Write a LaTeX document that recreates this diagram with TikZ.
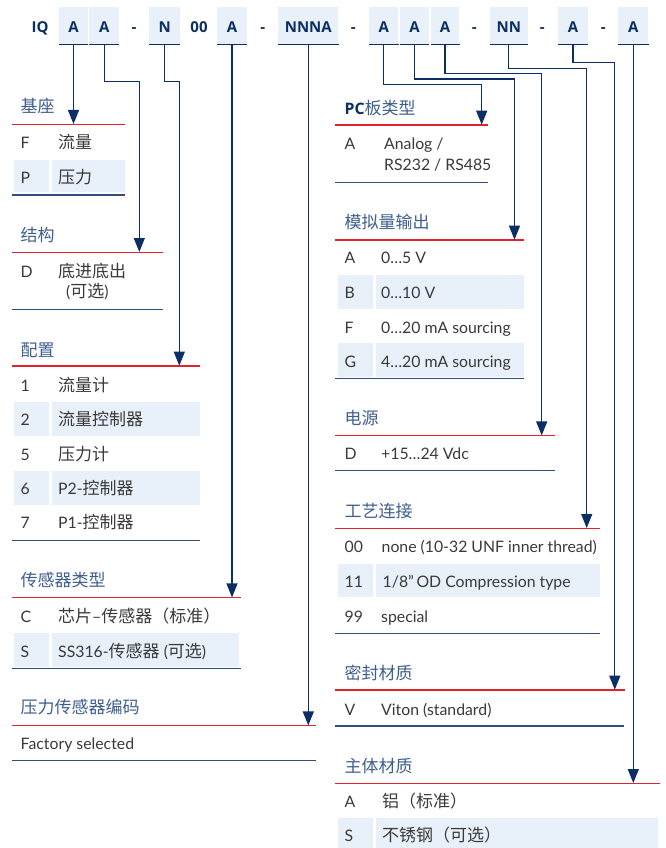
\documentclass[tikz,border=0pt]{standalone}
\usepackage{fontspec}
\setmainfont{Lato}
\newfontfamily\zhfont{Noto Sans CJK SC}
\newfontfamily\hdfont{Open Sans}
\usetikzlibrary{arrows.meta}
\definecolor{navy}{HTML}{0B2F64}
\definecolor{boxfill}{HTML}{E8F0F9}
\definecolor{headblue}{HTML}{3E5F8E}
\definecolor{redline}{HTML}{E1232E}
\definecolor{botline}{HTML}{2F4F7F}
\definecolor{bodytext}{HTML}{3A3A3A}
\newcommand\zh[1]{{\zhfont\fontsize{17}{19}\selectfont #1}}
\begin{document}
\begin{tikzpicture}[x=1pt,y=-1pt,
  hdr/.style={font=\hdfont\bfseries\fontsize{15}{18}\selectfont, text=navy, inner sep=0pt, text height=13.2pt, text depth=0pt},
  hbox/.style={hdr, fill=boxfill, minimum height=37.6pt},
  sec/.style={anchor=base west, inner sep=0pt, text=headblue, font=\fontsize{15.8}{19}\selectfont},
  key/.style={anchor=base west, inner sep=0pt, text=bodytext, font=\fontsize{15.8}{19}\selectfont},
  conn/.style={draw=navy, line width=1.2pt},
  arr/.style={conn, -{Triangle[length=14pt,width=11pt]}},
  redl/.style={draw=redline, line width=1.3pt},
  botl/.style={draw=botline, line width=1.5pt},
  hline/.style={draw=navy, line width=1.5pt},
  cell/.style={fill=boxfill}
]
\fill[white] (0,0) rectangle (665,848);
\useasboundingbox (0,0) rectangle (665,848);

% ---------- header code ----------
\node[hdr] (iq) at (40,25.5) {IQ};
\node[hbox, minimum width=29pt] (b1) at (73.5,25.5) {A};
\node[hbox, minimum width=29.7pt] (b2) at (104.2,25.5) {A};
\node[hdr] (d1) at (134,25.5) {-};
\node[hbox, minimum width=30.7pt] (b3) at (164.7,25.5) {N};
\node[hdr] (zz) at (199,25.5) {00};
\node[hbox, minimum width=30pt] (b4) at (232,25.5) {A};
\node[hdr] (d2) at (262.7,25.5) {-};
\node[hbox, minimum width=60pt] (b5) at (308.3,25.5) {NNNA};
\node[hdr] (d3) at (353.3,25.5) {-};
\node[hbox, minimum width=29.3pt] (b6) at (383.7,25.5) {A};
\node[hbox, minimum width=29pt] (b7) at (414.5,25.5) {A};
\node[hbox, minimum width=28.6pt] (b8) at (445,25.5) {A};
\node[hdr] (d4) at (474.3,25.5) {-};
\node[hbox, minimum width=37.7pt] (b9) at (508.8,25.5) {NN};
\node[hdr] (d5) at (542.3,25.5) {-};
\node[hbox, minimum width=29.4pt] (b10) at (573,25.5) {A};
\node[hdr] (d6) at (603.3,25.5) {-};
\node[hbox, minimum width=30pt] (b11) at (633.3,25.5) {A};
\foreach \b in {b1,b2,b3,b4,b5,b6,b7,b8,b9,b10,b11}
  \draw[hline] (\b.south west) -- (\b.south east);

% ---------- left column ----------
% 基座
\node[sec] (s1) at (20.5,113) {\zh{基座}};
\draw[redl] (11.7,124.3) -- (125,124.3);
\fill[cell] (14,160) rectangle (49.3,192.3);
\fill[cell] (51.7,160) rectangle (125,192.3);
\node[key] (s1k1) at (20.5,149) {F};
\node[key] (s1v1) at (58,149) {\zh{流量}};
\node[key] (s1k2) at (20.5,183) {P};
\node[key] (s1v2) at (58,183) {\zh{压力}};
\draw[botl] (11.7,195) -- (125,195);

% 结构
\node[sec] (s2) at (20.5,241.7) {\zh{结构}};
\draw[redl] (11.7,252.3) -- (162.7,252.3);
\node[key] (s2k1) at (20.5,277) {D};
\node[key] (s2v1) at (58,277) {\zh{底进底出}};
\node[key] (s2v1b) at (66,297.7) {(\zh{可选})};
\draw[botl] (11.7,309.3) -- (162.7,309.3);

% 配置
\node[sec] (s3) at (20.5,356.7) {\zh{配置}};
\draw[redl] (11.7,366) -- (200,366);
\fill[cell] (14,402.3) rectangle (49.3,436);
\fill[cell] (51.7,402.3) rectangle (200,436);
\fill[cell] (14,471) rectangle (49.3,505);
\fill[cell] (51.7,471) rectangle (200,505);
\node[key] (s3k1) at (20.5,391) {1};
\node[key] (s3v1) at (58,391) {\zh{流量计}};
\node[key] (s3k2) at (20.5,425) {2};
\node[key] (s3v2) at (58,425) {\zh{流量控制器}};
\node[key] (s3k3) at (20.5,460.3) {5};
\node[key] (s3v3) at (58,460.3) {\zh{压力计}};
\node[key] (s3k4) at (20.5,494) {6};
\node[key] (s3v4) at (58,494) {P2-\zh{控制器}};
\node[key] (s3k5) at (20.5,528.7) {7};
\node[key] (s3v5) at (58,528.7) {P1-\zh{控制器}};
\draw[botl] (11.7,540.7) -- (200,540.7);

% 传感器类型
\node[sec] (s4) at (20.5,586.7) {\zh{传感器类型}};
\draw[redl] (11.7,597.7) -- (240.7,597.7);
\fill[cell] (14,633.3) rectangle (49.3,666.7);
\fill[cell] (51.7,633.3) rectangle (239.3,666.7);
\node[key] (s4k1) at (20.5,622) {C};
\node[key] (s4v1) at (58,622) {\zh{芯片}–\zh{传感器（标准）}};
\node[key] (s4k2) at (20.5,657) {S};
\node[key] (s4v2) at (58,657) {SS316-\zh{传感器} (\zh{可选})};
\draw[botl] (11.7,668.5) -- (240.7,668.5);

% 压力传感器编码
\node[sec] (s5) at (20.5,713.7) {\zh{压力传感器编码}};
\draw[redl] (11.7,725.7) -- (316,725.7);
\node[key] (s5v1) at (20.5,749.3) {Factory selected};
\draw[botl] (11.7,760.7) -- (316,760.7);

% ---------- right column ----------
% PC板类型
\node[sec] (r1) at (344.5,114.3) {{\hdfont\bfseries\color{navy}PC}\zh{板类型}};
\draw[redl] (335,125) -- (488,125);
\node[key] (r1k1) at (344.5,149.3) {A};
\node[key] (r1v1) at (384,149.3) {Analog /};
\node[key] (r1v1b) at (384,170) {RS232 / RS485};
\draw[botl] (335,182.3) -- (488,182.3);

% 模拟量输出
\node[sec] (r2) at (344.5,228.7) {\zh{模拟量输出}};
\draw[redl] (335,240) -- (524.3,240);
\fill[cell] (338.3,275) rectangle (372.7,309);
\fill[cell] (376,275) rectangle (524.3,309);
\fill[cell] (338.3,343.3) rectangle (372.7,377);
\fill[cell] (376,343.3) rectangle (524.3,377);
\node[key] (r2k1) at (344.5,263.7) {A};
\node[key] (r2v1) at (381,263.7) {0…5 V};
\node[key] (r2k2) at (344.5,298.7) {B};
\node[key] (r2v2) at (381,298.7) {0…10 V};
\node[key] (r2k3) at (344.5,333.3) {F};
\node[key] (r2v3) at (381,333.3) {0…20 mA sourcing};
\node[key] (r2k4) at (344.5,367.7) {G};
\node[key] (r2v4) at (381,367.7) {4…20 mA sourcing};
\draw[botl] (335,378.5) -- (524.3,378.5);

% 电源
\node[sec] (r3) at (344.5,424.3) {\zh{电源}};
\draw[redl] (335,435.7) -- (555,435.7);
\node[key] (r3k1) at (344.5,459.3) {D};
\node[key] (r3v1) at (381,459.3) {+15…24 Vdc};
\draw[botl] (335,470.7) -- (555,470.7);

% 工艺连接
\node[sec] (r4) at (344.5,517) {\zh{工艺连接}};
\draw[redl] (335,528.3) -- (600,528.3);
\fill[cell] (338.3,564) rectangle (372.7,597.3);
\fill[cell] (376,564) rectangle (600,597.3);
\node[key] (r4k1) at (344.5,552) {00};
\node[key] (r4v1) at (381.5,552) {none (10-32 UNF inner thread)};
\node[key] (r4k2) at (344.5,587.7) {11};
\node[key] (r4v2) at (382.5,587.7) {1/8”\,OD Compression type};
\node[key] (r4k3) at (344.5,622) {99};
\node[key] (r4v3) at (381,622) {special};
\draw[botl] (335,633.3) -- (600,633.3);

% 密封材质
\node[sec] (r5) at (344.5,679.3) {\zh{密封材质}};
\draw[redl] (335,690) -- (625,690);
\node[key] (r5k1) at (344.5,715) {V};
\node[key] (r5v1) at (381,715) {Viton (standard)};
\draw[botl] (335,726) -- (624,726);

% 主体材质
\node[sec] (r6) at (344.5,772.7) {\zh{主体材质}};
\draw[redl] (335,783.3) -- (660,783.3);
\fill[cell] (338.3,818.3) rectangle (372.7,848);
\fill[cell] (376,818.3) rectangle (658.3,848);
\node[key] (r6k1) at (344.5,807.7) {A};
\node[key] (r6v1) at (382,807.7) {\zh{铝（标准）}};
\node[key] (r6k2) at (344.5,841) {S};
\node[key] (r6v2) at (382,841) {\zh{不锈钢（可选）}};

% ---------- connectors ----------
\coordinate (t1) at (73.5,124);
\coordinate (k2) at (139.3,81.7);   \coordinate (t2) at (139.3,252);
\coordinate (k3) at (179.3,81.7);   \coordinate (t3) at (179.3,365.7);
\coordinate (t4) at (232,597.4);
\coordinate (t5) at (308.3,725.4);
\coordinate (k6) at (481.7,84.3);   \coordinate (t6) at (481.7,124.7);
\coordinate (k7) at (514.5,79);     \coordinate (t7) at (514.5,239.7);
\coordinate (k8) at (541.7,73.3);   \coordinate (t8) at (541.7,435.4);
\coordinate (k9) at (586.7,68.3);   \coordinate (t9) at (586.7,528);
\coordinate (k10) at (614.8,62.3);  \coordinate (t10) at (614.8,689.7);
\coordinate (t11) at (633.3,783);

\draw[arr] (b1.south) -- (t1);
\draw[arr] (b2.south) |- (k2) -- (t2);
\draw[arr] (b3.south) |- (k3) -- (t3);
\draw[arr] (b4.south) -- (t4);
\draw[arr] (b5.south) -- (t5);
\draw[arr] (b6.south) |- (k6) -- (t6);
\draw[arr] (b7.south) |- (k7) -- (t7);
\draw[arr] (b8.south) |- (k8) -- (t8);
\draw[arr] (b9.south) |- (k9) -- (t9);
\draw[arr] (b10.south) |- (k10) -- (t10);
\draw[arr] (b11.south) -- (t11);
\end{tikzpicture}
\end{document}
